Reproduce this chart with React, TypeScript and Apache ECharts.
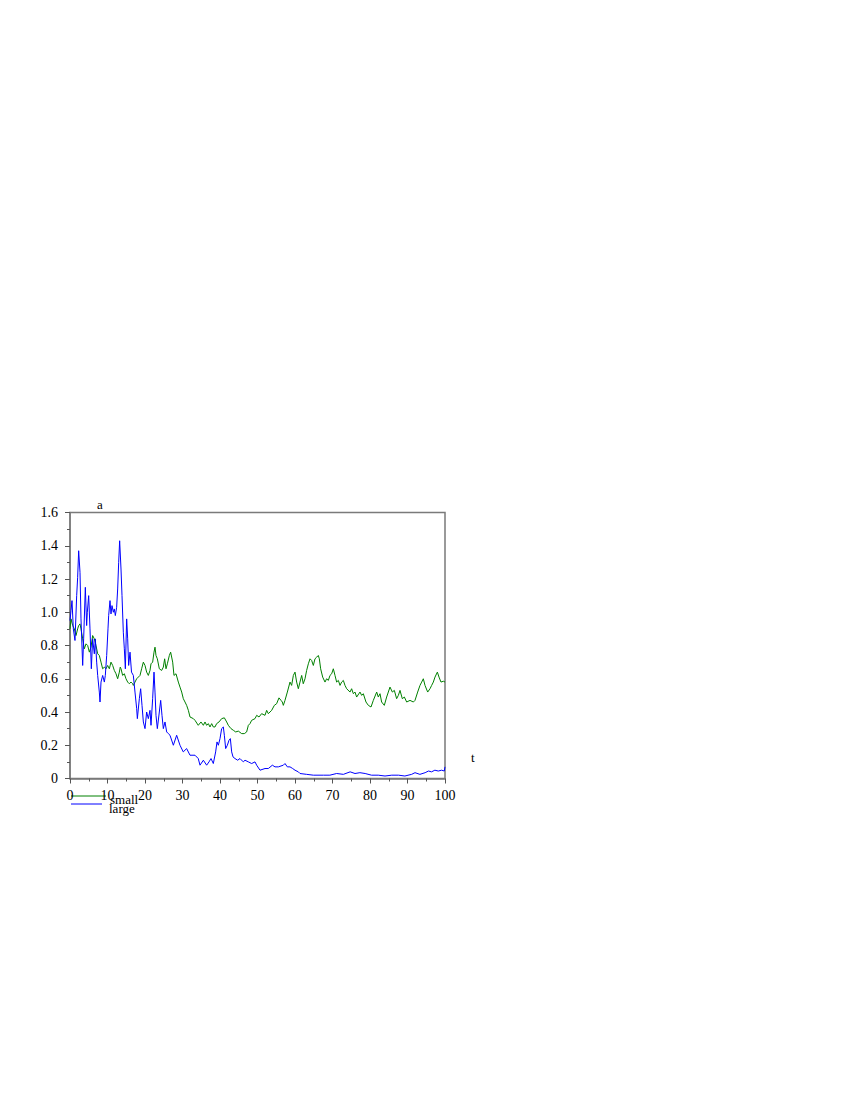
import React, { useEffect, useRef } from "react";
import * as echarts from "echarts";

const xTicks = [0, 10, 20, 30, 40, 50, 60, 70, 80, 90, 100];
const yTicks = [0, 0.2, 0.4, 0.6, 0.8, 1.0, 1.2, 1.4, 1.6];
const seriesNames = ["small", "large"];

const smallData: number[][] = [
  [0, 0.9], [0.27, 0.96], [0.71, 0.92], [1.16, 0.9], [1.6, 0.86], [2.04, 0.9], [2.31, 0.92], [2.67, 0.93],
  [2.93, 0.9], [3.38, 0.84], [3.82, 0.78], [4.27, 0.81], [4.71, 0.8], [5.16, 0.76], [5.6, 0.79], [6.04, 0.86],
  [6.49, 0.84], [6.93, 0.8], [7.38, 0.75], [7.82, 0.74], [8.27, 0.7], [8.71, 0.66], [9.16, 0.67], [9.6, 0.66],
  [10.04, 0.68], [10.49, 0.66], [10.93, 0.7], [11.38, 0.68], [11.82, 0.65], [12.27, 0.63], [12.71, 0.6],
  [13.16, 0.64], [13.4, 0.67], [13.6, 0.66], [14.04, 0.62], [14.49, 0.63], [14.93, 0.6], [15.38, 0.58],
  [15.82, 0.57], [16.27, 0.58], [16.71, 0.57], [16.89, 0.56], [17.33, 0.58], [17.78, 0.6], [18.67, 0.62],
  [19.1, 0.66], [19.56, 0.7], [20, 0.68], [20.44, 0.64], [20.89, 0.62], [21.33, 0.65], [21.6, 0.69],
  [22.04, 0.7], [22.4, 0.76], [22.67, 0.79], [22.93, 0.74], [23.29, 0.72], [23.82, 0.66], [24.44, 0.65],
  [24.89, 0.67], [25.24, 0.72], [25.6, 0.66], [25.96, 0.69], [26.49, 0.74], [26.84, 0.76], [27.38, 0.7],
  [27.73, 0.62], [28.27, 0.63], [28.89, 0.58], [29.33, 0.55], [29.78, 0.52], [30.22, 0.48], [30.67, 0.46],
  [31.1, 0.44], [31.56, 0.41], [32, 0.37], [32.9, 0.36], [33.33, 0.35], [34.2, 0.32], [34.93, 0.34],
  [35.56, 0.32], [36, 0.34], [36.44, 0.32], [36.89, 0.33], [37.33, 0.31], [37.78, 0.33], [38.22, 0.31],
  [38.67, 0.31], [39.1, 0.33], [39.73, 0.34], [40.44, 0.36], [41.16, 0.365], [41.78, 0.34], [42.22, 0.32],
  [42.93, 0.3], [43.56, 0.29], [44.18, 0.28], [44.89, 0.285], [45.78, 0.27], [46.49, 0.27], [47.1, 0.28],
  [47.56, 0.32], [48, 0.33], [48.44, 0.35], [49.33, 0.36], [49.78, 0.38], [50.4, 0.37], [51.1, 0.39],
  [52, 0.38], [52.44, 0.41], [52.89, 0.39], [53.78, 0.41], [54.49, 0.44], [55.1, 0.45], [55.73, 0.485],
  [56.27, 0.47], [56.62, 0.46], [56.89, 0.44], [57.33, 0.47], [57.96, 0.52], [58.67, 0.58], [59.1, 0.56],
  [59.56, 0.62], [60, 0.64], [60.44, 0.58], [60.89, 0.54], [61.33, 0.58], [61.78, 0.62], [62.2, 0.57],
  [62.67, 0.6], [63.1, 0.65], [63.56, 0.69], [64, 0.72], [64.44, 0.71], [64.89, 0.68], [65.33, 0.72],
  [65.78, 0.73], [66.22, 0.74], [66.49, 0.72], [66.84, 0.66], [67.38, 0.61], [68, 0.58], [68.44, 0.6],
  [68.89, 0.59], [69.33, 0.62], [69.78, 0.63], [70.22, 0.66], [70.67, 0.62], [71.1, 0.58], [71.56, 0.59],
  [72, 0.56], [72.44, 0.58], [72.89, 0.59], [73.33, 0.56], [73.78, 0.54], [74.67, 0.52], [75.1, 0.54],
  [75.56, 0.51], [76, 0.52], [76.44, 0.49], [77.33, 0.52], [77.78, 0.5], [78.22, 0.51], [78.93, 0.46],
  [79.56, 0.44], [80.27, 0.43], [80.89, 0.47], [81.78, 0.52], [82.22, 0.49], [82.67, 0.51], [83.1, 0.46],
  [83.82, 0.44], [84.44, 0.49], [85.33, 0.55], [85.96, 0.52], [86.49, 0.53], [87.1, 0.48], [87.56, 0.5],
  [88, 0.53], [88.62, 0.48], [89.16, 0.49], [89.78, 0.46], [90.67, 0.47], [91.56, 0.46], [92, 0.47],
  [92.71, 0.52], [93.33, 0.56], [93.78, 0.58], [94.22, 0.6], [94.67, 0.56], [95.38, 0.52], [96, 0.54],
  [96.44, 0.56], [96.89, 0.58], [97.33, 0.61], [97.96, 0.64], [98.4, 0.61], [98.93, 0.58], [99.56, 0.585],
  [100, 0.58],
];

const largeData: number[][] = [
  [0, 0.95], [0.27, 1.01], [0.53, 1.07], [0.89, 0.9], [1.33, 0.83], [1.78, 1.1], [2.04, 1.21], [2.31, 1.37],
  [2.67, 1.24], [2.93, 0.96], [3.38, 0.68], [3.64, 0.84], [4.09, 1.15], [4.44, 0.92], [4.62, 1.0],
  [4.98, 1.1], [5.33, 0.9], [5.69, 0.66], [6.04, 0.84], [6.49, 0.75], [6.76, 0.84], [7.11, 0.7],
  [7.38, 0.62], [7.82, 0.52], [8.0, 0.46], [8.27, 0.58], [8.71, 0.62], [9.16, 0.58], [9.42, 0.62],
  [9.78, 0.74], [10.13, 0.9], [10.31, 0.98], [10.67, 1.07], [10.93, 0.99], [11.2, 1.04], [11.56, 1.0],
  [11.82, 1.02], [12.09, 0.98], [12.44, 1.03], [12.71, 1.14], [12.98, 1.3], [13.24, 1.43], [13.6, 1.26],
  [13.87, 1.1], [14.22, 0.88], [14.49, 0.78], [14.76, 0.66], [15.11, 0.96], [15.38, 0.84], [15.64, 0.68],
  [16.0, 0.76], [16.4, 0.64], [16.89, 0.62], [17.33, 0.52], [17.78, 0.42], [17.96, 0.36], [18.49, 0.48],
  [18.84, 0.54], [19.2, 0.44], [19.56, 0.34], [20.0, 0.3], [20.44, 0.4], [20.89, 0.36], [21.33, 0.41],
  [21.6, 0.32], [22.04, 0.48], [22.4, 0.64], [22.67, 0.52], [22.93, 0.38], [23.29, 0.3], [23.82, 0.4],
  [24.18, 0.47], [24.53, 0.38], [24.89, 0.3], [25.33, 0.34], [25.78, 0.28], [26.22, 0.27], [26.67, 0.26],
  [27.56, 0.2], [28.44, 0.26], [29.33, 0.2], [30.2, 0.16], [31.1, 0.18], [32, 0.14], [33.33, 0.14],
  [34.2, 0.12], [34.67, 0.08], [35.56, 0.11], [36.44, 0.08], [37.07, 0.1], [37.6, 0.12], [38.22, 0.09],
  [38.84, 0.16], [39.2, 0.22], [39.56, 0.2], [40.0, 0.24], [40.44, 0.3], [40.89, 0.31], [41.16, 0.26],
  [41.51, 0.18], [41.96, 0.2], [42.4, 0.23], [42.76, 0.24], [43.11, 0.16], [43.47, 0.13], [44.0, 0.12],
  [44.71, 0.11], [45.33, 0.12], [46.22, 0.1], [46.67, 0.11], [47.56, 0.1], [48.44, 0.09], [49.33, 0.1],
  [49.78, 0.08], [50.67, 0.05], [52.0, 0.06], [52.89, 0.06], [53.96, 0.08], [54.67, 0.07], [55.56, 0.07],
  [56.89, 0.08], [57.33, 0.09], [57.96, 0.07], [58.67, 0.07], [59.38, 0.06], [60, 0.05], [60.89, 0.04],
  [61.33, 0.03], [63.1, 0.025], [64.9, 0.02], [67.6, 0.02], [69.3, 0.02], [71.1, 0.03], [72.9, 0.025],
  [74.7, 0.04], [76, 0.03], [77.3, 0.035], [78.7, 0.03], [80.4, 0.02], [82.2, 0.02], [84, 0.015],
  [85.8, 0.02], [87.6, 0.02], [89.3, 0.015], [91.1, 0.025], [92, 0.035], [93.3, 0.025], [94.7, 0.035],
  [95.6, 0.045], [96.4, 0.04], [97.3, 0.05], [98.2, 0.045], [99.1, 0.05], [99.8, 0.045], [100, 0.07],
];

const FONT = "'Liberation Serif', 'Times New Roman', serif";
const AXIS_COLOR = "#7a7a7a";
const GREEN = "#008000";
const BLUE = "#0000ff";

export default function App() {
  const ref = useRef<HTMLDivElement>(null);
  useEffect(() => {
    if (!ref.current) return;
    const chart = echarts.init(ref.current, undefined, { renderer: "svg" });
    const left = 70;
    const top = 512.5;
    const width = 375;
    const height = 266;
    chart.setOption({
      animation: false,
      backgroundColor: "#ffffff",
      grid: {
        left,
        top,
        width,
        height,
        show: true,
        borderColor: AXIS_COLOR,
        borderWidth: 1.5,
        backgroundColor: "transparent",
      },
      xAxis: {
        type: "value",
        min: xTicks[0],
        max: xTicks[xTicks.length - 1],
        interval: 10,
        axisLine: { show: true, lineStyle: { color: AXIS_COLOR, width: 1.5 } },
        axisTick: { show: true, length: 5, lineStyle: { color: "#555", width: 1 } },
        minorTick: { show: true, splitNumber: 2, length: 3, lineStyle: { color: "#555", width: 1 } },
        splitLine: { show: false },
        axisLabel: {
          color: "#000",
          fontFamily: FONT,
          fontSize: 14,
          margin: 10,
          formatter: (v: number) => String(v),
        },
      },
      yAxis: {
        type: "value",
        min: yTicks[0],
        max: yTicks[yTicks.length - 1],
        interval: 0.2,
        axisLine: { show: true, lineStyle: { color: AXIS_COLOR, width: 1.5 } },
        axisTick: { show: true, length: 5, lineStyle: { color: "#555", width: 1 } },
        minorTick: { show: true, splitNumber: 2, length: 3, lineStyle: { color: "#555", width: 1 } },
        splitLine: { show: false },
        axisLabel: {
          color: "#000",
          fontFamily: FONT,
          fontSize: 14,
          margin: 12,
          formatter: (v: number) => (v === 0 ? "0" : v.toFixed(1)),
        },
      },
      series: [
        {
          name: seriesNames[0],
          type: "line",
          data: smallData,
          showSymbol: false,
          lineStyle: { color: GREEN, width: 1 },
          itemStyle: { color: GREEN },
          z: 2,
        },
        {
          name: seriesNames[1],
          type: "line",
          data: largeData,
          showSymbol: false,
          lineStyle: { color: BLUE, width: 1 },
          itemStyle: { color: BLUE },
          z: 3,
        },
      ],
      graphic: [
        {
          type: "text",
          left: 97,
          top: 498,
          style: { text: "a", font: `13px ${FONT}`, fill: "#000" },
        },
        {
          type: "text",
          left: 471,
          top: 751,
          style: { text: "t", font: `13px ${FONT}`, fill: "#000" },
        },
        {
          type: "line",
          shape: { x1: 71, y1: 796, x2: 106, y2: 796 },
          style: { stroke: GREEN, lineWidth: 1 },
        },
        {
          type: "line",
          shape: { x1: 71, y1: 804, x2: 102, y2: 804 },
          style: { stroke: BLUE, lineWidth: 1 },
        },
        {
          type: "text",
          left: 110,
          top: 793,
          style: { text: seriesNames[0], font: `13px ${FONT}`, fill: "#000" },
        },
        {
          type: "text",
          left: 109,
          top: 802,
          style: { text: seriesNames[1], font: `13px ${FONT}`, fill: "#000" },
        },
      ],
    });
    return () => chart.dispose();
  }, []);
  return (
    <div
      ref={ref}
      style={{ position: "absolute", left: 0, top: 0, width: 850, height: 1100 }}
    />
  );
}
